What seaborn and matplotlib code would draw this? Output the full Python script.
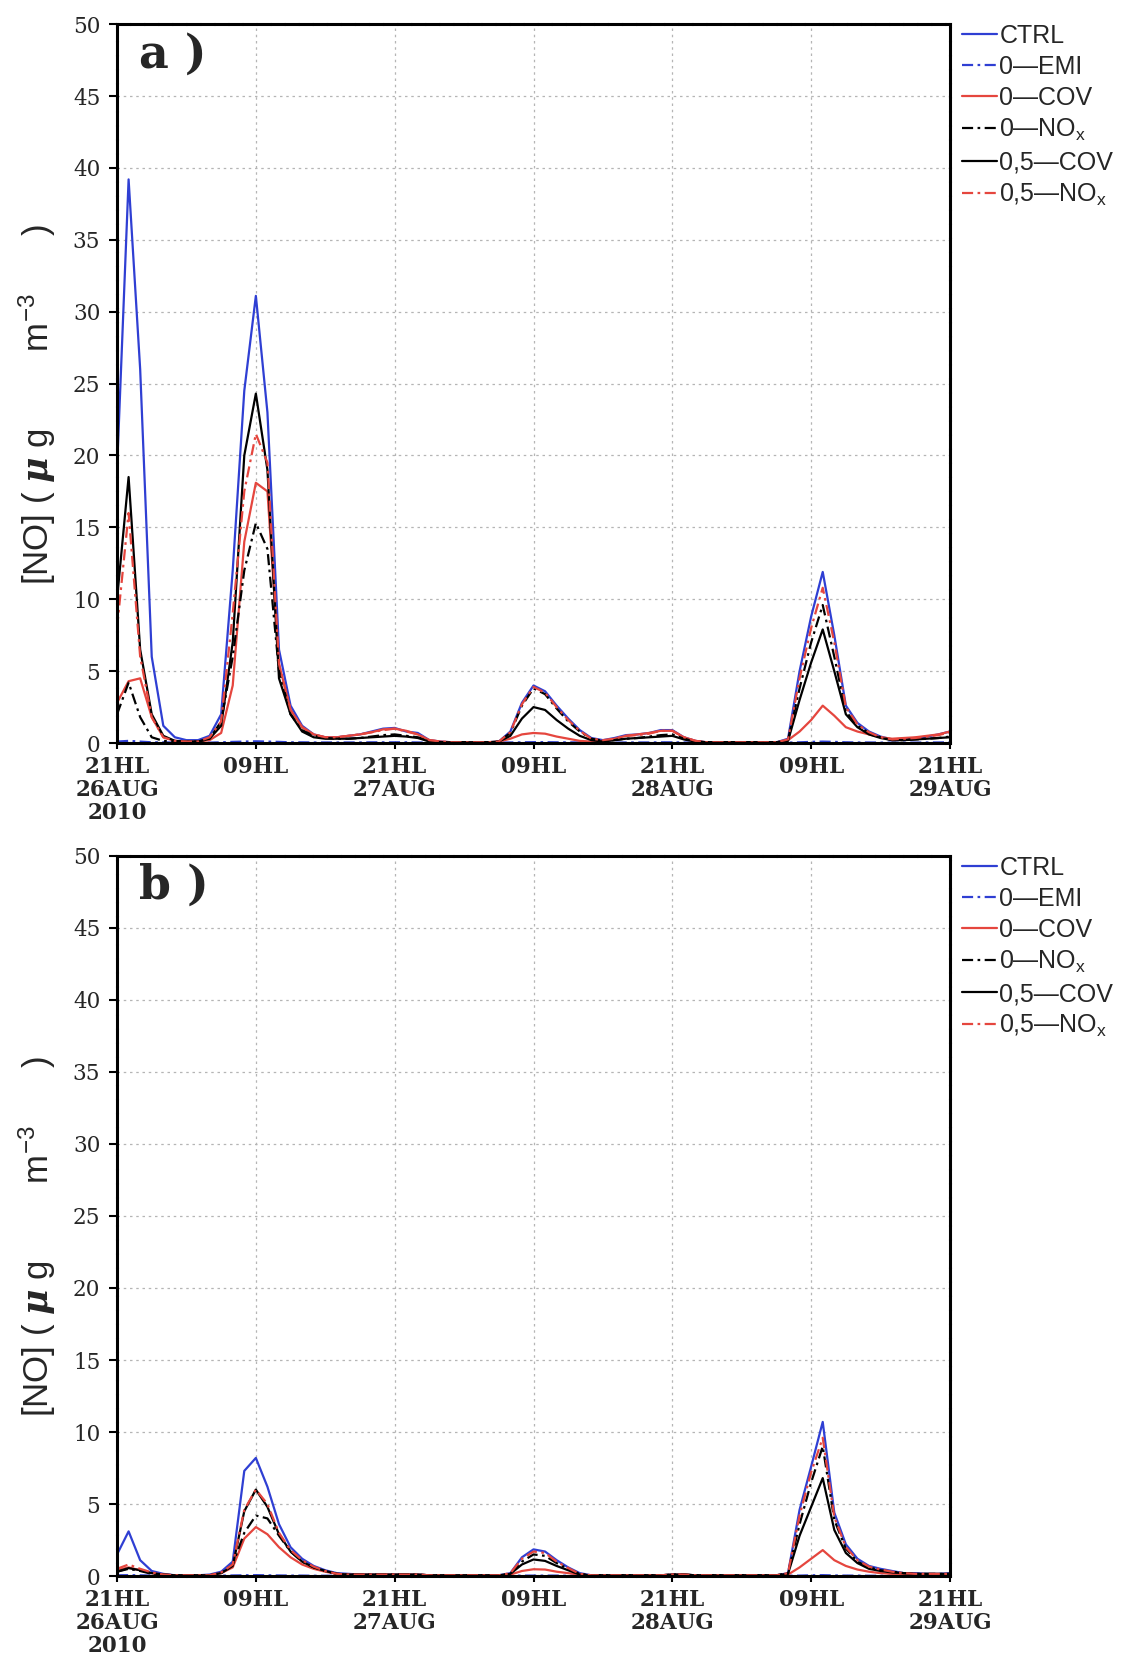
import numpy as np
import pandas as pd
import matplotlib
matplotlib.use("Agg")
import matplotlib.pyplot as plt
import seaborn as sns

# hourly time axis: 0 = 21HL 26AUG 2010, 72 = 21HL 29AUG
hours = np.arange(73)
tick_hours = [0, 12, 24, 36, 48, 60, 72]
tick_labels = ["21HL\n26AUG\n2010", "09HL", "21HL\n27AUG", "09HL",
               "21HL\n28AUG", "09HL", "21HL\n29AUG"]
series_names = ["CTRL", "0\u2014EMI", "0\u2014COV", "0\u2014NO$_x$",
                "0,5\u2014COV", "0,5\u2014NO$_x$"]

# panel a
ctrl_a = [19, 39.2, 26, 6, 1.2, 0.4, 0.2, 0.2, 0.5, 2.0, 12, 24.5,
          31.1, 23, 6.5, 2.6, 1.2, 0.6, 0.4, 0.4, 0.5, 0.6, 0.8, 1.0,
          1.05, 0.8, 0.7, 0.2, 0.1, 0.05, 0.05, 0.05, 0.05, 0.1, 0.8, 2.8,
          4.0, 3.6, 2.6, 1.7, 0.9, 0.35, 0.2, 0.35, 0.55, 0.6, 0.7, 0.9,
          0.9, 0.4, 0.15, 0.05, 0.05, 0.05, 0.05, 0.05, 0.05, 0.05, 0.3, 5.0,
          8.8, 11.9, 7.5, 2.6, 1.4, 0.8, 0.45, 0.25, 0.3, 0.35, 0.45, 0.6,
          0.8]
emi_a = [0.1, 0.15, 0.1, 0.05, 0.05, 0.03, 0.03, 0.03, 0.03, 0.05, 0.08, 0.1,
         0.12, 0.1, 0.08, 0.05, 0.05, 0.04, 0.04, 0.04, 0.04, 0.04, 0.05, 0.05,
         0.05, 0.05, 0.04, 0.03, 0.03, 0.03, 0.03, 0.03, 0.03, 0.03, 0.04, 0.05,
         0.06, 0.06, 0.05, 0.05, 0.04, 0.03, 0.03, 0.03, 0.04, 0.04, 0.04, 0.05,
         0.05, 0.04, 0.03, 0.03, 0.03, 0.03, 0.03, 0.03, 0.03, 0.03, 0.03, 0.05,
         0.08, 0.1, 0.08, 0.05, 0.04, 0.04, 0.03, 0.03, 0.03, 0.03, 0.04, 0.04,
         0.05]
cov0_a = [2.8, 4.3, 4.5, 1.8, 0.4, 0.15, 0.1, 0.1, 0.2, 0.7, 4.0, 14,
          18.1, 17.5, 5.5, 2.3, 1.1, 0.6, 0.4, 0.4, 0.5, 0.6, 0.75, 0.95,
          1.0, 0.85, 0.6, 0.2, 0.1, 0.05, 0.05, 0.05, 0.05, 0.1, 0.3, 0.6,
          0.7, 0.65, 0.45, 0.3, 0.15, 0.1, 0.15, 0.3, 0.5, 0.6, 0.7, 0.85,
          0.85, 0.4, 0.15, 0.05, 0.05, 0.05, 0.05, 0.05, 0.05, 0.05, 0.2, 0.8,
          1.6, 2.6, 1.9, 1.1, 0.8, 0.6, 0.4, 0.3, 0.35, 0.4, 0.5, 0.6,
          0.8]
nox0_a = [2.0, 4.2, 1.8, 0.4, 0.15, 0.1, 0.1, 0.1, 0.3, 1.5, 6, 12,
          15.3, 13.5, 5, 2.0, 0.9, 0.5, 0.35, 0.3, 0.3, 0.35, 0.45, 0.55,
          0.6, 0.5, 0.4, 0.15, 0.05, 0.05, 0.05, 0.05, 0.05, 0.1, 0.7, 2.6,
          3.8, 3.4, 2.4, 1.5, 0.8, 0.3, 0.15, 0.2, 0.3, 0.35, 0.45, 0.55,
          0.6, 0.3, 0.1, 0.05, 0.05, 0.05, 0.05, 0.05, 0.05, 0.05, 0.2, 3.8,
          7.0, 9.6, 6.0, 2.2, 1.2, 0.7, 0.4, 0.2, 0.2, 0.25, 0.3, 0.35,
          0.45]
cov05_a = [10, 18.5, 6.5, 2.0, 0.5, 0.15, 0.1, 0.1, 0.3, 1.2, 7, 20,
           24.3, 19, 4.5, 2.0, 0.8, 0.4, 0.3, 0.3, 0.3, 0.35, 0.4, 0.45,
           0.5, 0.45, 0.35, 0.1, 0.05, 0.05, 0.05, 0.05, 0.05, 0.1, 0.5, 1.7,
           2.5, 2.3, 1.6, 1.0, 0.5, 0.2, 0.1, 0.2, 0.3, 0.35, 0.4, 0.45,
           0.5, 0.25, 0.1, 0.05, 0.05, 0.05, 0.05, 0.05, 0.05, 0.05, 0.15, 3.0,
           5.6, 7.9, 5.0, 2.0, 1.1, 0.6, 0.35, 0.2, 0.2, 0.25, 0.3, 0.35,
           0.4]
nox05_a = [8, 16, 6, 1.8, 0.4, 0.15, 0.1, 0.1, 0.4, 1.5, 9, 17.5,
           21.5, 19.5, 5.5, 2.3, 1.1, 0.6, 0.4, 0.4, 0.5, 0.6, 0.75, 0.9,
           1.0, 0.8, 0.6, 0.2, 0.1, 0.05, 0.05, 0.05, 0.05, 0.1, 0.75, 2.7,
           3.9, 3.5, 2.5, 1.6, 0.85, 0.3, 0.2, 0.3, 0.5, 0.55, 0.65, 0.85,
           0.85, 0.4, 0.15, 0.05, 0.05, 0.05, 0.05, 0.05, 0.05, 0.05, 0.25, 4.5,
           8.0, 10.8, 7.0, 2.5, 1.3, 0.75, 0.4, 0.25, 0.3, 0.35, 0.45, 0.55,
           0.75]

# panel b
ctrl_b = [1.5, 3.1, 1.1, 0.35, 0.15, 0.05, 0.05, 0.05, 0.1, 0.3, 1.0, 7.3,
          8.2, 6.2, 3.6, 2.0, 1.2, 0.7, 0.4, 0.2, 0.15, 0.1, 0.1, 0.1,
          0.1, 0.1, 0.1, 0.05, 0.05, 0.05, 0.05, 0.05, 0.05, 0.05, 0.2, 1.3,
          1.85, 1.7, 1.1, 0.6, 0.2, 0.05, 0.05, 0.05, 0.05, 0.05, 0.05, 0.05,
          0.1, 0.1, 0.05, 0.05, 0.05, 0.05, 0.05, 0.05, 0.05, 0.05, 0.2, 4.6,
          7.6, 10.7, 4.4, 2.2, 1.2, 0.7, 0.5, 0.35, 0.2, 0.2, 0.15, 0.15,
          0.2]
emi_b = [0.05, 0.06, 0.05, 0.03, 0.03, 0.02, 0.02, 0.02, 0.02, 0.03, 0.04, 0.05,
         0.06, 0.05, 0.04, 0.03, 0.03, 0.02, 0.02, 0.02, 0.02, 0.02, 0.02, 0.02,
         0.02, 0.02, 0.02, 0.02, 0.02, 0.02, 0.02, 0.02, 0.02, 0.02, 0.02, 0.03,
         0.03, 0.03, 0.03, 0.02, 0.02, 0.02, 0.02, 0.02, 0.02, 0.02, 0.02, 0.02,
         0.02, 0.02, 0.02, 0.02, 0.02, 0.02, 0.02, 0.02, 0.02, 0.02, 0.02, 0.03,
         0.05, 0.06, 0.04, 0.03, 0.03, 0.02, 0.02, 0.02, 0.02, 0.02, 0.02, 0.02,
         0.02]
cov0_b = [0.4, 0.6, 0.4, 0.2, 0.1, 0.05, 0.05, 0.05, 0.05, 0.2, 0.6, 2.6,
          3.4, 2.9, 2.0, 1.3, 0.8, 0.5, 0.3, 0.15, 0.1, 0.1, 0.1, 0.1,
          0.1, 0.1, 0.1, 0.05, 0.05, 0.05, 0.05, 0.05, 0.05, 0.05, 0.1, 0.35,
          0.47, 0.45, 0.3, 0.2, 0.1, 0.05, 0.05, 0.05, 0.05, 0.05, 0.05, 0.05,
          0.1, 0.1, 0.05, 0.05, 0.05, 0.05, 0.05, 0.05, 0.05, 0.05, 0.1, 0.6,
          1.2, 1.8, 1.1, 0.7, 0.45, 0.3, 0.2, 0.15, 0.1, 0.1, 0.1, 0.1,
          0.1]
nox0_b = [0.3, 0.5, 0.35, 0.15, 0.1, 0.05, 0.05, 0.05, 0.05, 0.2, 0.8, 3.0,
          4.2, 4.0, 2.8, 1.7, 1.0, 0.6, 0.35, 0.15, 0.1, 0.1, 0.1, 0.1,
          0.1, 0.1, 0.1, 0.05, 0.05, 0.05, 0.05, 0.05, 0.05, 0.05, 0.15, 1.0,
          1.5, 1.4, 0.9, 0.5, 0.15, 0.05, 0.05, 0.05, 0.05, 0.05, 0.05, 0.05,
          0.1, 0.1, 0.05, 0.05, 0.05, 0.05, 0.05, 0.05, 0.05, 0.05, 0.2, 3.6,
          6.5, 9.0, 3.9, 1.9, 1.0, 0.6, 0.4, 0.3, 0.2, 0.15, 0.15, 0.15,
          0.15]
cov05_b = [0.3, 0.55, 0.4, 0.2, 0.1, 0.05, 0.05, 0.05, 0.05, 0.2, 0.7, 4.5,
           6.0, 4.8, 2.9, 1.7, 1.0, 0.6, 0.35, 0.15, 0.1, 0.1, 0.1, 0.1,
           0.1, 0.1, 0.1, 0.05, 0.05, 0.05, 0.05, 0.05, 0.05, 0.05, 0.15, 0.8,
           1.15, 1.05, 0.7, 0.4, 0.1, 0.05, 0.05, 0.05, 0.05, 0.05, 0.05, 0.05,
           0.1, 0.1, 0.05, 0.05, 0.05, 0.05, 0.05, 0.05, 0.05, 0.05, 0.15, 2.8,
           4.8, 6.8, 3.2, 1.6, 0.9, 0.5, 0.35, 0.25, 0.2, 0.15, 0.15, 0.15,
           0.15]
nox05_b = [0.5, 0.8, 0.5, 0.25, 0.1, 0.05, 0.05, 0.05, 0.05, 0.25, 0.8, 4.6,
           6.0, 5.0, 3.0, 1.8, 1.1, 0.65, 0.35, 0.15, 0.1, 0.1, 0.1, 0.1,
           0.1, 0.1, 0.1, 0.05, 0.05, 0.05, 0.05, 0.05, 0.05, 0.05, 0.2, 1.2,
           1.7, 1.6, 1.0, 0.55, 0.15, 0.05, 0.05, 0.05, 0.05, 0.05, 0.05, 0.05,
           0.1, 0.1, 0.05, 0.05, 0.05, 0.05, 0.05, 0.05, 0.05, 0.05, 0.2, 4.2,
           7.2, 9.6, 4.1, 2.0, 1.1, 0.65, 0.45, 0.3, 0.2, 0.15, 0.15, 0.15,
           0.15]

BLUE = "#2f3fd3"
RED = "#e5463e"
palette = dict(zip(series_names, [BLUE, BLUE, RED, "black", "black", RED]))
dashdot = (5, 2, 1.2, 2)
dashes = dict(zip(series_names, ["", dashdot, "", dashdot, "", dashdot]))

sns.set_theme(style="white")
plt.rcParams["font.family"] = ["Liberation Sans", "DejaVu Sans"]
plt.rcParams["mathtext.fontset"] = "custom"
plt.rcParams["mathtext.rm"] = "Liberation Sans"
plt.rcParams["mathtext.it"] = "DejaVu Serif:italic:bold"
plt.rcParams["mathtext.default"] = "regular"

ylab = "[NO] ( $\\mathit{\\mu}$ g        m$^{-3}$      )"


def long_frame(cols):
    frames = []
    for name, vals in zip(series_names, cols):
        frames.append(pd.DataFrame({"hour": hours, "no": vals, "run": name}))
    return pd.concat(frames, ignore_index=True)


def draw_panel(ax, cols, tag):
    df = long_frame(cols)
    sns.lineplot(data=df, x="hour", y="no", hue="run", style="run",
                 hue_order=series_names, style_order=series_names,
                 palette=palette, dashes=dashes, linewidth=1.6, ax=ax)
    ax.set_xlim(0, 72)
    ax.set_ylim(0, 50)
    ax.set_yticks(np.arange(0, 51, 5))
    ax.set_xticks(tick_hours)
    ax.set_xticklabels(tick_labels, family="DejaVu Serif", fontsize=15.5,
                       fontweight="bold", linespacing=1.05)
    for lab in ax.get_yticklabels():
        lab.set_family("DejaVu Serif")
        lab.set_fontsize(15.5)
    ax.tick_params(axis="y", direction="out", length=6, width=1.5,
                   color="black", left=True, pad=6)
    ax.tick_params(axis="x", direction="out", length=4.5, width=1.5,
                   color="black", bottom=True, pad=5)
    ax.grid(True, color="#b5b5b5", linestyle=(0, (2, 3)), linewidth=0.9)
    for sp in ax.spines.values():
        sp.set_color("black")
        sp.set_linewidth(2.2)
        sp.set_linestyle((0, (4, 0.6)))
    ax.set_xlabel("")
    ax.set_ylabel(ylab, fontsize=25, va="center")
    ax.yaxis.set_label_coords(-0.096, 0.4715)
    ax.text(0.026, 0.99, tag + " )", transform=ax.transAxes,
            fontsize=33, fontweight="bold", family="DejaVu Serif",
            va="top", ha="left")
    sns.move_legend(ax, "upper left", bbox_to_anchor=(1.0144, 1.0),
                    frameon=False, title=None, fontsize=18,
                    handlelength=1.4, handletextpad=0.1,
                    labelspacing=0.28, borderaxespad=0, borderpad=0)


fig = plt.figure(figsize=(11.44, 16.63), dpi=100)
ax_a = fig.add_axes([0.1023, 0.5532, 0.7281, 0.4323])
ax_b = fig.add_axes([0.1023, 0.0523, 0.7281, 0.4330])

draw_panel(ax_a, [ctrl_a, emi_a, cov0_a, nox0_a, cov05_a, nox05_a], "a")
draw_panel(ax_b, [ctrl_b, emi_b, cov0_b, nox0_b, cov05_b, nox05_b], "b")

fig.savefig("out.png", dpi=100)
plt.close(fig)
